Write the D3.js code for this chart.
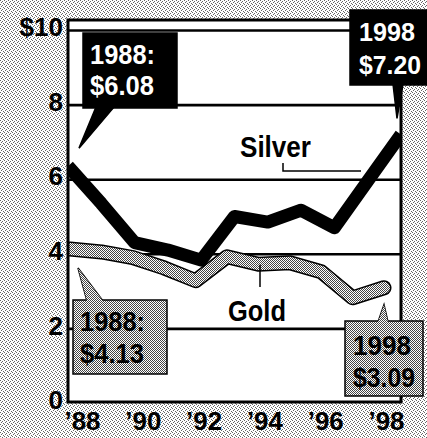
<!DOCTYPE html>
<html>
<head>
<meta charset="utf-8">
<script src="https://cdn.jsdelivr.net/npm/d3@7"></script>
<style>
  body { margin: 0; background: #fff; }
  svg { display: block; }
  text { font-family: "Liberation Sans", Arial, sans-serif; font-weight: bold; }
</style>
</head>
<body>
<div id="chart"></div>
<script>
//---------------------------DATA---------------------------
var years = [1988, 1989, 1990, 1991, 1992, 1993, 1994, 1995, 1996, 1997, 1998];
var silver = [6.35, 5.35, 4.3, 4.1, 3.83, 5.0, 4.85, 5.17, 4.7, 5.95, 7.2];
var gold = [4.13, 4.05, 3.9, 3.62, 3.28, 3.92, 3.72, 3.76, 3.52, 2.82, 3.09];
var yTicks = [0, 2, 4, 6, 8, 10];
var xLabels = ["\u201988", "\u201990", "\u201992", "\u201994", "\u201996", "\u201998"];
var silverNotes = [["1988:", "$6.08"], ["1998", "$7.20"]];
var goldNotes = [["1988:", "$4.13"], ["1998", "$3.09"]];

function init() {
    var w = 427;
    var h = 438;
    var plot = {left: 68, right: 401, top: 20, bottom: 402};

    var svg = d3.select("#chart")
                .append("svg")
                .attr("width", w)
                .attr("height", h);

    var defs = svg.append("defs");

    //stipple patterns (light for background, darker for gold)
    function stipple(id, dots, col) {
        var p = defs.append("pattern")
            .attr("id", id)
            .attr("patternUnits", "userSpaceOnUse")
            .attr("width", 4)
            .attr("height", 4);
        p.append("rect").attr("width", 4).attr("height", 4).attr("fill", "#fff");
        p.selectAll("rect.dot")
            .data(dots)
            .enter()
            .append("rect")
            .attr("class", "dot")
            .attr("x", function(d){ return d[0]; })
            .attr("y", function(d){ return d[1]; })
            .attr("width", 1)
            .attr("height", 1)
            .attr("fill", col);
    }
    stipple("bgDots", [[0,0],[2,1],[1,2],[3,3]], "#666");
    stipple("goldDots", [[0,0],[2,0],[1,1],[3,1],[0,2],[2,2],[1,3],[3,3]], "#444");

    defs.append("clipPath")
        .attr("id", "plotClip")
        .append("rect")
        .attr("x", plot.left)
        .attr("y", plot.top)
        .attr("width", plot.right - plot.left)
        .attr("height", plot.bottom - plot.top);

    //background and white plot area
    svg.append("rect")
        .attr("width", w)
        .attr("height", h)
        .attr("fill", "url(#bgDots)");

    svg.append("rect")
        .attr("x", plot.left)
        .attr("y", plot.top)
        .attr("width", plot.right - plot.left)
        .attr("height", plot.bottom - plot.top)
        .attr("fill", "#fff");

    //scales
    var xScale = d3.scaleLinear()
                   .domain([1988, 1998])
                   .range([plot.left, plot.right]);
    var xGold = xScale.copy().range([plot.left + 2, 384]);//gold stops a bit short

    var yScale = d3.scaleLinear()
                   .domain([0, 10])
                   .range([403, 30]);

    var xLab = d3.scalePoint()
                 .domain(xLabels)
                 .range([82, 386]);

    //gridlines
    svg.append("g")
        .attr("transform", "translate(" + plot.left + ",0)")
        .call(d3.axisLeft(yScale)
                .tickValues(yTicks.filter(function(d){ return d > 0; }))
                .tickSize(-(plot.right - plot.left))
                .tickFormat(""))
        .call(function(g){ g.select(".domain").remove(); })
        .selectAll("line")
        .attr("stroke", "#000")
        .attr("stroke-width", 2.6);

    //y labels
    svg.append("g")
        .attr("transform", "translate(" + (plot.left - 5) + ",0)")
        .call(d3.axisLeft(yScale)
                .tickValues(yTicks)
                .tickSize(0)
                .tickPadding(0)
                .tickFormat(function(d){ return d == 10 ? "$10" : d; }))
        .call(function(g){ g.select(".domain").remove(); })
        .selectAll("text")
        .attr("font-size", "26px")
        .attr("font-family", "Liberation Sans, Arial, sans-serif")
        .attr("font-weight", "bold")
        .attr("fill", "#000")
        .attr("dy", "0.22em");

    //x labels
    svg.append("g")
        .attr("transform", "translate(0," + plot.bottom + ")")
        .call(d3.axisBottom(xLab)
                .tickSize(0)
                .tickPadding(10))
        .call(function(g){ g.select(".domain").remove(); })
        .selectAll("text")
        .attr("font-size", "26px")
        .attr("font-family", "Liberation Sans, Arial, sans-serif")
        .attr("font-weight", "bold")
        .attr("fill", "#000")
        .attr("textLength", 36)
        .attr("lengthAdjust", "spacingAndGlyphs");

    //lines
    var lines = svg.append("g").attr("clip-path", "url(#plotClip)");

    var goldLine = d3.line()
        .x(function(d, i){ return xGold(years[i]); })
        .y(function(d){ return yScale(d); });

    var silverLine = d3.line()
        .x(function(d, i){ return xScale(years[i]); })
        .y(function(d){ return yScale(d); });

    lines.append("path")
        .datum(gold)
        .attr("d", goldLine)
        .attr("fill", "none")
        .attr("stroke", "#000")
        .attr("stroke-width", 15)
        .attr("stroke-linecap", "round")
        .attr("stroke-linejoin", "round");

    lines.append("path")
        .datum(gold)
        .attr("d", goldLine)
        .attr("fill", "none")
        .attr("stroke", "url(#goldDots)")
        .attr("stroke-width", 12)
        .attr("stroke-linecap", "round")
        .attr("stroke-linejoin", "round");

    lines.append("path")
        .datum(silver)
        .attr("d", silverLine)
        .attr("fill", "none")
        .attr("stroke", "#000")
        .attr("stroke-width", 13)
        .attr("stroke-linejoin", "round");

    //frame
    svg.append("path")
        .attr("d", "M" + plot.left + "," + plot.top + "H" + plot.right + "V" + plot.bottom +
                   "H" + plot.left + "Z")
        .attr("fill", "none")
        .attr("stroke", "#000")
        .attr("stroke-width", 3);

    //series names with leader lines
    var sx = xScale(1996.8), sy = 171;
    svg.append("path")
        .attr("d", "M283,163V" + sy + "H" + sx)
        .attr("fill", "none")
        .attr("stroke", "#000")
        .attr("stroke-width", 1.5);
    svg.append("text")
        .attr("x", 240).attr("y", 157)
        .attr("font-size", "30px")
        .attr("textLength", 71)
        .attr("lengthAdjust", "spacingAndGlyphs")
        .text("Silver");

    var gy = yScale(gold[5]) + 8;
    svg.append("line")
        .attr("x1", 260).attr("x2", 260)
        .attr("y1", gy).attr("y2", 287)
        .attr("stroke", "#000")
        .attr("stroke-width", 1.5);
    svg.append("text")
        .attr("x", 228).attr("y", 321)
        .attr("font-size", "30px")
        .attr("textLength", 58)
        .attr("lengthAdjust", "spacingAndGlyphs")
        .text("Gold");

    //callouts: box + tail + two lines of text
    function callout(box, tail, lines, fill, ink, stroke) {
        var g = svg.append("g");
        g.append("path")
            .attr("d", "M" + tail[0] + "L" + tail[1] + "L" + tail[2] + "Z")
            .attr("fill", fill)
            .attr("stroke", stroke)
            .attr("stroke-width", 1.5)
            .attr("stroke-linejoin", "miter");
        g.append("rect")
            .attr("x", box.x).attr("y", box.y)
            .attr("width", box.w).attr("height", box.h)
            .attr("fill", fill)
            .attr("stroke", stroke)
            .attr("stroke-width", 1.5);
        //cover the seam between tail and box
        g.append("path")
            .attr("d", "M" + tail[0] + "L" + tail[1] + "L" + tail[2] + "Z")
            .attr("fill", fill);
        g.selectAll("text")
            .data(lines)
            .enter()
            .append("text")
            .attr("x", box.x + box.pad)
            .attr("y", function(d, i){ return box.y + box.base[i]; })
            .attr("font-size", (box.fs || 28) + "px")
            .attr("fill", ink)
            .attr("textLength", function(d, i){ return box.len[i]; })
            .attr("lengthAdjust", "spacingAndGlyphs")
            .text(function(d){ return d; });
    }

    //silver 1988
    var p0 = [xScale(1988), yScale(silver[0])];
    callout({x: 83, y: 33, w: 94, h: 75, pad: 7, base: [31, 62], len: [65, 64]},
            [[p0[0] + 28, 107], [p0[0] + 46, 107], [p0[0] + 11, p0[1] - 18]],
            silverNotes[0], "#000", "#fff", "#000");

    //silver 1998 (slightly smaller type so it stays inside the page)
    var p1 = [xScale(1998), yScale(silver[10])];
    callout({x: 350, y: 10, w: 80, h: 75, pad: 9, fs: 26, base: [31, 64], len: [56, 62]},
            [[p1[0] - 8, 84], [p1[0] + 2, 84], [p1[0] - 4, p1[1] - 16]],
            silverNotes[1], "#000", "#fff", "#000");

    //gold 1988
    var q0 = [xGold(1988), yScale(gold[0])];
    callout({x: 73, y: 300, w: 94, h: 74, pad: 7, base: [31, 63], len: [65, 64]},
            [[q0[0] + 17, 301], [q0[0] + 33, 301], [q0[0] + 8, q0[1] + 19]],
            goldNotes[0], "url(#goldDots)", "#000", "#000");

    //gold 1998
    var q1 = [xGold(1998), yScale(gold[10])];
    callout({x: 345, y: 321, w: 78, h: 75, pad: 8, base: [34, 66], len: [58, 62]},
            [[q1[0] - 6, 322], [q1[0] + 4, 322], [q1[0], q1[1] + 17]],
            goldNotes[1], "url(#goldDots)", "#000", "#000");
}

window.onload = init;
</script>
</body>
</html>
